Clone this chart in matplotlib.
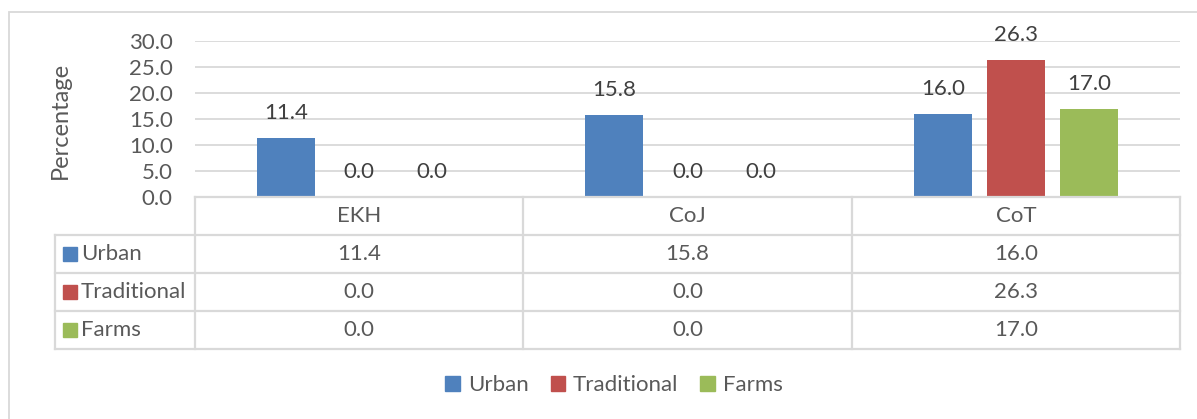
import matplotlib
matplotlib.use('Agg')
import matplotlib.pyplot as plt
from matplotlib.patches import Rectangle
import numpy as np

plt.rcParams['font.family'] = ['Lato', 'DejaVu Sans']

# Data
sites = ['EKH', 'CoJ', 'CoT']
series = ['Urban', 'Traditional', 'Farms']
urban = [11.4, 15.8, 16.0]
traditional = [0.0, 0.0, 26.3]
farms = [0.0, 0.0, 17.0]
values = [urban, traditional, farms]
colors = ['#4F81BD', '#C0504D', '#9BBB59']

W, H = 1197, 419
TXT = '#595959'
LINE = '#D9D9D9'
FS = 16


def fx(px):
    return px / W


def fy(py):
    return 1 - py / H


fig = plt.figure(figsize=(W / 100, H / 100), dpi=100)

# chart frame
fig.patches.append(Rectangle((fx(9), -0.1), 1.2, fy(12) + 0.1, transform=fig.transFigure,
                             fill=False, edgecolor=LINE, linewidth=1.3))

# bar area
x0, x1 = 195, 1180
ax = fig.add_axes([fx(x0), fy(197), fx(x1) - fx(x0), fy(41) - fy(197)])
x = np.arange(len(sites))
step = 73 / 328.33
bw = 58 / 328.33
for i, (vals, c) in enumerate(zip(values, colors)):
    pos = x + (i - 1) * step
    ax.bar(pos, vals, bw, color=c, zorder=3)
    for p, v in zip(pos, vals):
        ax.annotate(f'{v:.1f}', (p, v), xytext=(0, 18), textcoords='offset points',
                    ha='center', va='center', fontsize=FS, color='#404040')
ax.set_xlim(-0.5, 2.5)
ax.set_ylim(0, 30)
ax.set_yticks(np.arange(0, 31, 5))
ax.set_yticklabels([f'{t:.1f}' for t in np.arange(0, 31, 5)], fontsize=FS, color=TXT)
ax.set_xticks([])
ax.tick_params(axis='y', length=0, pad=16)
ax.grid(axis='y', color=LINE, linewidth=1.3, zorder=0)
for s in ax.spines.values():
    s.set_visible(False)
ax.set_ylabel('Percentage', fontsize=17, color=TXT)
ax.yaxis.set_label_coords(fx(71), fy(120), transform=fig.transFigure)

# data table below the bars
tl = 55
tax = fig.add_axes([fx(tl), fy(349), fx(x1) - fx(tl), fy(197) - fy(349)])
lead = (x0 - tl) / 328.33
tax.set_xlim(-0.5 - lead, 2.5)
tax.set_ylim(4, 0)
tax.axis('off')
lw = 1.6
tax.plot([-0.5, 2.5], [0, 0], color=LINE, lw=lw, clip_on=False)
for r in range(1, 5):
    tax.plot([-0.5 - lead, 2.5], [r, r], color=LINE, lw=lw, clip_on=False)
tax.plot([-0.5 - lead] * 2, [1, 4], color=LINE, lw=lw, clip_on=False)
for c in range(4):
    tax.plot([c - 0.5] * 2, [0, 4], color=LINE, lw=lw, clip_on=False)

for j, s in enumerate(sites):
    tax.text(j, 0.5, s, ha='center', va='center', fontsize=FS, color=TXT)
sq = 14 / 328.33
for i, (name, vals, c) in enumerate(zip(series, values, colors)):
    y = i + 1.5
    tax.add_patch(Rectangle((-0.5 - lead + 8 / 328.33, y - 0.19), sq, 0.38,
                            color=c, clip_on=False))
    tax.text(-0.5 - lead + 26 / 328.33, y, name, ha='left', va='center', fontsize=FS, color=TXT)
    for j, v in enumerate(vals):
        tax.text(j, y, f'{v:.1f}', ha='center', va='center', fontsize=FS, color=TXT)

# legend
handles = [Rectangle((0, 0), 1, 1, color=c) for c in colors]
fig.legend(handles, series, loc='center', bbox_to_anchor=(fx(614), fy(385)), ncol=3,
           frameon=False, fontsize=FS, labelcolor=TXT, handlelength=0.65, handleheight=0.65,
           handletextpad=0.35, columnspacing=1.0)

fig.savefig('out.png', dpi=100)
